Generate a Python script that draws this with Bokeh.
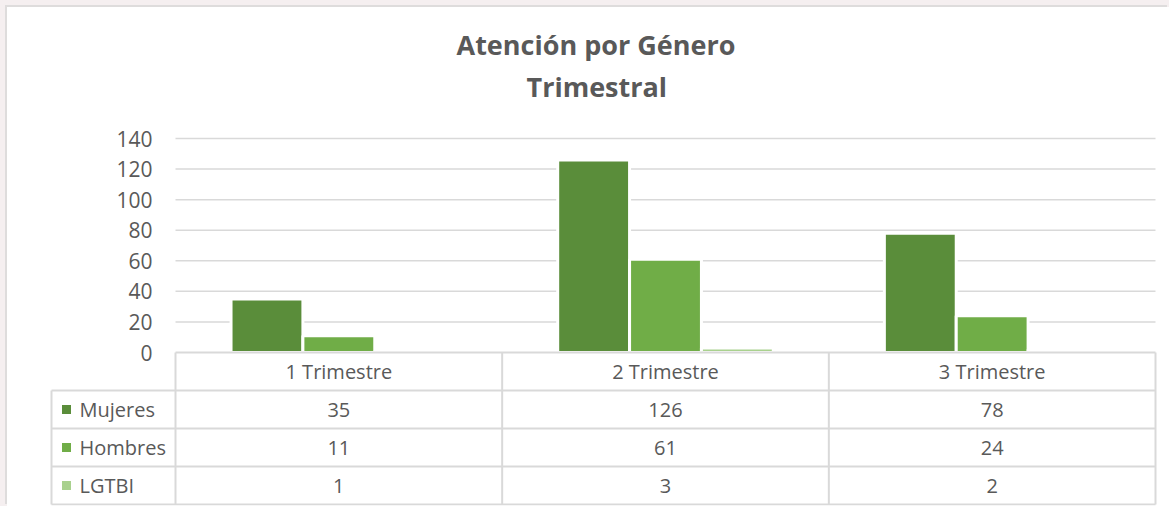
from bokeh.plotting import figure
from bokeh.models import Range1d, FixedTicker, Title
from bokeh.layouts import column
from bokeh.core.properties import value
from bokeh.embed import file_html
from bokeh.resources import INLINE

# ---- data ----
categories = ["1 Trimestre", "2 Trimestre", "3 Trimestre"]
series_names = ["Mujeres", "Hombres", "LGTBI"]
mujeres = [35, 126, 78]
hombres = [11, 61, 24]
lgtbi = [1, 3, 2]
y_ticks = [0, 20, 40, 60, 80, 100, 120, 140]
title_line1 = "Atención por Género"
title_line2 = "Trimestral"

series_values = [mujeres, hombres, lgtbi]
colors = ["#5A8D3A", "#70AD47", "#A9D18E"]
TXT = "#595959"
GRID = "#D9D9D9"
FONT = "Open Sans"
FS = "20px"

# ---- layout constants (page px, converted to canvas px by the card offset) ----
OX, OY = 7, 7                      # card offset inside the pink page edge
W, H = 1169 - OX, 506 - OY
CAT_L, CAT_R = 175 - OX, 1155 - OX  # category columns / bar area
LAB_L = 51 - OX                     # left edge of legend column
FR_L, FR_R = 49 - OX, 1157 - OX     # frame
FR_T, FR_B = 106 - OY, 505 - OY
Y0_PX, Y140_PX = 352 - OY, 138 - OY
ROW_H = 38.0

ncat = len(categories)
nrows = len(series_names) + 1
col_w = (CAT_R - CAT_L) / ncat
k = (Y0_PX - Y140_PX) / y_ticks[-1]

x_start = -(CAT_L - FR_L) / col_w
x_end = ncat + (FR_R - CAT_R) / col_w
y_start = -(FR_B - Y0_PX) / k
y_end = (Y0_PX - FR_T) / k

p = figure(width=W, height=H, x_range=Range1d(x_start, x_end),
           y_range=Range1d(y_start, y_end), output_backend="svg",
           toolbar_location=None, x_axis_location=None, title=None,
           min_border_left=FR_L, min_border_right=W - FR_R,
           min_border_top=FR_T, min_border_bottom=H - FR_B,
           styles={"box-shadow": "-2px -2px 0 #DEDCDC", "background-color": "white"})
p.outline_line_color = None
p.background_fill_color = "white"
p.border_fill_color = "white"
p.grid.visible = False

# table range: row units, row 0 = header, grows downward
p.extra_y_ranges = {"table": Range1d((FR_B - Y0_PX) / ROW_H, -(Y0_PX - FR_T) / ROW_H)}

# gridlines (values > 0) across the category area
gt = y_ticks[1:]
p.segment(x0=[0] * len(gt), y0=gt, x1=[ncat] * len(gt), y1=gt,
          line_color=GRID, line_width=1.5)

# bars
slot = 0.22
for j, (name, vals, c) in enumerate(zip(series_names, series_values, colors)):
    xs = [i + 0.5 + (j - 1) * slot for i in range(ncat)]
    p.vbar(x=xs, top=vals, bottom=0, width=slot, fill_color=c,
           line_color="white", line_width=3)

# y axis with labels pulled right next to the bar area
p.yaxis.ticker = FixedTicker(ticks=y_ticks)
p.yaxis.axis_line_color = None
p.yaxis.major_tick_line_color = None
p.yaxis.minor_tick_line_color = None
p.yaxis.major_label_standoff = -(CAT_L - 23 - FR_L) - 6
p.yaxis.major_label_text_font = FONT
p.yaxis.major_label_text_font_size = "21px"
p.yaxis.major_label_text_color = TXT

# titles (left-aligned with offsets so both lines centre near x=595)
t2 = Title(text=title_line2, align="left", offset=477, standoff=4, text_font=FONT,
           text_font_size="27px", text_font_style="bold", text_color=TXT)
t1 = Title(text=title_line1, align="left", offset=407, standoff=1, text_font=FONT,
           text_font_size="27px", text_font_style="bold", text_color=TXT)
p.add_layout(t2, "above")
p.add_layout(t1, "above")

# ---- data table ----
lab_left = -(CAT_L - LAB_L) / col_w
hx0 = [0] + [lab_left] * (nrows)
hx1 = [ncat] * (nrows + 1)
hy = list(range(nrows + 1))
p.segment(x0=hx0, y0=hy, x1=hx1, y1=hy, line_color=GRID, line_width=2,
          y_range_name="table")
vx = [lab_left] + list(range(ncat + 1))
vy0 = [1] + [0] * (ncat + 1)
vy1 = [nrows] * (ncat + 2)
p.segment(x0=vx, y0=vy0, x1=vx, y1=vy1, line_color=GRID, line_width=2,
          y_range_name="table")

p.text(x=[i + 0.5 for i in range(ncat)], y=[0.5] * ncat, text=categories,
       text_align="center", text_baseline="middle", text_font=value(FONT),
       text_font_size=FS, text_color=TXT, y_range_name="table")

vx_, vy_, vt_ = [], [], []
for r, vals in enumerate(series_values):
    for i, v in enumerate(vals):
        vx_.append(i + 0.5)
        vy_.append(r + 1.5)
        vt_.append(str(v))
p.text(x=vx_, y=vy_, text=vt_, text_align="center", text_baseline="middle",
       text_font=value(FONT), text_font_size=FS, text_color=TXT,
       y_range_name="table")

ry = [r + 1.5 for r in range(len(series_names))]
p.scatter(x=[-(CAT_L - LAB_L - 15) / col_w] * len(series_names), y=ry, marker="square",
          size=9, fill_color=colors, line_color=None, y_range_name="table")
p.text(x=[-(CAT_L - LAB_L - 28) / col_w] * len(series_names), y=ry, text=series_names,
       text_align="left", text_baseline="middle", text_font=value(FONT),
       text_font_size=FS, text_color=TXT, y_range_name="table")

page = column(p, styles={"background-color": "#F5EFF0",
                         "padding-left": f"{OX}px", "padding-top": f"{OY}px"})
open("out.html", "w").write(file_html(page, INLINE))
